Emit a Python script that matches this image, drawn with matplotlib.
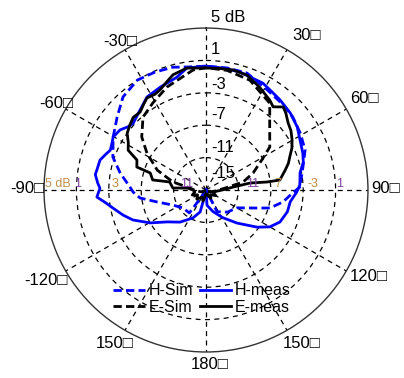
import numpy as np
import matplotlib
matplotlib.use('Agg')
import matplotlib.pyplot as plt
from matplotlib.transforms import offset_copy

plt.rcParams['font.family'] = ['Liberation Sans', 'DejaVu Sans']

# ---------------- data (angle in degrees, clockwise from top; level in dB) ----------------
h_sim_ang = [-180, -150, -146, -144, -128, -114.4, -103.8, -96.9, -91.6, -87.7, -78.8, -70.5,
             -60.3, -50.6, -41.7, -32, -23.4, -15, -8.8, 0, 10, 19.3, 31.4, 42.2, 50, 58.8,
             68, 76.7, 88.2, 92, 98.9, 105.7, 109.4, 120, 136, 153, 160, 180]
h_sim_db = [-15, -15, -13.8, -11.5, -11.4, -10.5, -8.8, -6.8, -6.0, -5.6, -4.2, -2.8,
            -1.8, -0.8, 0.4, 1.0, 0.87, 0.7, 0.37, 0.3, 0.3, 0.3, -0.5, -0.8, -1.0, -1.4,
            -1.8, -2.7, -3.4, -4.3, -5.4, -6.8, -8.3, -10.6, -11.2, -12.0, -15, -15]

h_meas_ang = [-180, -166, -165, -155, -141, -129.4, -120.5, -112.3, -106.8, -101, -96.8, -93.7,
              -89, -86.3, -82, -79.6, -74.2, -70, -67.4, -63, -60.3, -55, -51, -47.5, -43,
              -39.5, -32.4, -24, -19, -14.4, -8.9, 0, 8, 16, 28, 34, 39.4, 47.5, 55.3, 62,
              69, 74, 79.7, 82.7, 87, 91.3, 98, 105, 113.4, 120, 126, 136.8, 148.7, 162, 176, 180]
h_meas_db = [-15, -13.5, -12.2, -11.2, -9.9, -8.8, -7.0, -5.25, -4.3, -3.3, -2.4, -1.5,
             -1.9, -1.6, -1.2, -1.3, -1.4, -1.9, -2.2, -2.0, -1.8, -2.05, -2.6, -2.8, -2.5,
             -2.2, -1.4, -1.1, -0.9, -0.6, 0.25, 0.3, 0.2, 0.16, -0.05, -0.4, -0.6, -0.9, -1.3, -1.85,
             -2.2, -2.5, -3.2, -3.3, -3.4, -3.8, -4.5, -4.6, -5.05, -5.9, -7.2, -9.4, -11.0, -12.2, -13.1, -15]

e_sim_ang = [-180, -120, -95, -83, -76.4, -67.8, -58, -50.4, -40.8, -31.4, -20.7, -6.2, 0,
             10, 21.8, 36.3, 44.6, 56, 61.8, 70, 77.8, 84, 95, 120, 180]
e_sim_db = [-15, -14.5, -13.8, -13.0, -10.8, -8.5, -6.4, -4.7, -3.1, -2.4, -1.4, -0.1, 0.1,
            0.0, -0.4, -1.7, -3.8, -5.5, -7.2, -8.8, -10.3, -12.6, -13.8, -14.5, -15]

e_meas_ang = [-180, -165, -150, -135, -120, -110, -100, -90, -84, -86.5, -77.5, -79.3, -73,
              -71.6, -66.5, -62.9, -58.9, -54.2, -49, -45, -40.2, -36, -32.7, -28, -24.7,
              -20, -16, -8.9, 0, 6, 12.7, 19.6, 27.7, 35.4, 38.9, 42.9, 46, 50.7, 55, 59.8,
              64, 68.6, 72, 75.8, 82.3, 82.5, 81, 83.7, 90, 106, 120, 135, 150, 165, 180]
e_meas_db = [-14.5, -13.6, -14.0, -13.4, -13.8, -13.2, -13.6, -13.4, -12.7, -10.9, -10.4, -8.3, -7.8,
             -6.0, -5.7, -4.2, -3.8, -3.0, -2.6, -2.3, -2.4, -1.9, -1.5, -1.6, -1.4,
             -0.8, -0.2, 0.25, 0.06, 0.1, 0.2, 0.06, -0.7, -1.4, -1.8, -1.0, -1.3, -1.9, -2.2, -2.7,
             -3.2, -3.9, -4.3, -4.9, -5.8, -7.4, -9.5, -11.6, -13.0, -14.1, -13.6, -14.2, -13.8, -14.4, -14.5]

series_names = ['H-Sim', 'H-meas', 'E-Sim', 'E-meas']

ring_values = [1, -3, -7, -11]
radial_labels = ['5 dB', '1', '-3', '-7', '-11', '-15']
radial_label_values = [5, 1, -3, -7, -11, -15]

angle_ticks = [30, 60, 90, 120, 150, 180, -150, -120, -90, -60, -30]
angle_labels = ['30□', '60□', '90□', '120□', '150□', '180□', '150□', '-120□', '-90□', '-60□', '-30□']

# overlay labels along the horizontal axis (colored, from a second scale)
side_labels = ['5 dB', '1', '3', '11', '11', '7', '-3', '1']
side_label_colors = ['#c09050', '#8040a0', '#c08840', '#8040a0', '#8040a0', '#c09050', '#c08840', '#8040a0']

# ---------------- figure ----------------
fig = plt.figure(figsize=(4.04, 3.78), dpi=100)
ax = fig.add_axes([0.1089, 0.0688, 0.802, 0.857], projection='polar')
ax.set_theta_zero_location('N')
ax.set_theta_direction(-1)
ax.set_rlim(-15, 5)
ax.set_rticks(ring_values)
ax.set_thetagrids(np.arange(0, 360, 30))
ax.set_xticklabels([])
ax.set_yticklabels([])
ax.grid(True, color='black', linestyle=(0, (4, 3.5)), linewidth=0.9)
ax.spines['polar'].set_color('#333333')
ax.spines['polar'].set_linewidth(1.0)

l1, = ax.plot(np.deg2rad(h_sim_ang), h_sim_db, color='#0000ff', lw=2.0, linestyle=(0, (3, 1.5)))
l2, = ax.plot(np.deg2rad(h_meas_ang), h_meas_db, color='#0000ff', lw=2.0)
l3, = ax.plot(np.deg2rad(e_sim_ang), e_sim_db, color='black', lw=2.0, linestyle=(0, (3, 1.5)))
l4, = ax.plot(np.deg2rad(e_meas_ang), e_meas_db, color='black', lw=2.0)

# radial labels just right of the 0 deg spoke
rad_offsets = [1.35, 1.4, 1.0, 1.3, 1.3, 2.1]
tr = offset_copy(ax.transData, fig=fig, x=5, y=0, units='dots')
for lab, v, off in zip(radial_labels, radial_label_values, rad_offsets):
    ax.text(0, v + off, lab, transform=tr, ha='left', va='center', fontsize=12, clip_on=False)

# angle labels
ang_pos_theta = [33.1, 59.8, 89.4, 118.1, 147.9, 178.7, -149.3, -119.4, -89.4, -59.9, -30]
ang_pos_r = [7.84, 7.57, 7.2, 7.8, 7.3, 6.6, 7.0, 7.67, 7.1, 6.4, 6.2]
for lab, th, r in zip(angle_labels, ang_pos_theta, ang_pos_r):
    ax.text(np.deg2rad(th), r, lab, ha='center', va='center', fontsize=12, clip_on=False)

# colored overlay labels on horizontal axis
side_theta = [-90, -90, -90, -90, 90, 90, 90, 90]
side_r = [4.9, 0.8, -3.8, -12.6, -9.2, -6.1, -1.8, 1.5]
side_ha = ['left', 'center', 'center', 'center', 'center', 'center', 'center', 'center']
tr2 = offset_copy(ax.transData, fig=fig, x=0, y=6, units='dots')
for lab, th, r, c, ha in zip(side_labels, side_theta, side_r, side_label_colors, side_ha):
    ax.text(np.deg2rad(th), r, lab, transform=tr2, ha=ha, va='center', fontsize=9, color=c, clip_on=False)

leg = fig.legend([l1, l3, l2, l4], [series_names[0], series_names[2], series_names[1], series_names[3]],
                 ncol=2, frameon=False, loc='center', bbox_to_anchor=(0.5, 0.209),
                 fontsize=11.5, handlelength=2.0, handletextpad=0.2, columnspacing=0.4,
                 labelspacing=0.1, borderpad=0.0)

fig.savefig('out.png', dpi=100)
